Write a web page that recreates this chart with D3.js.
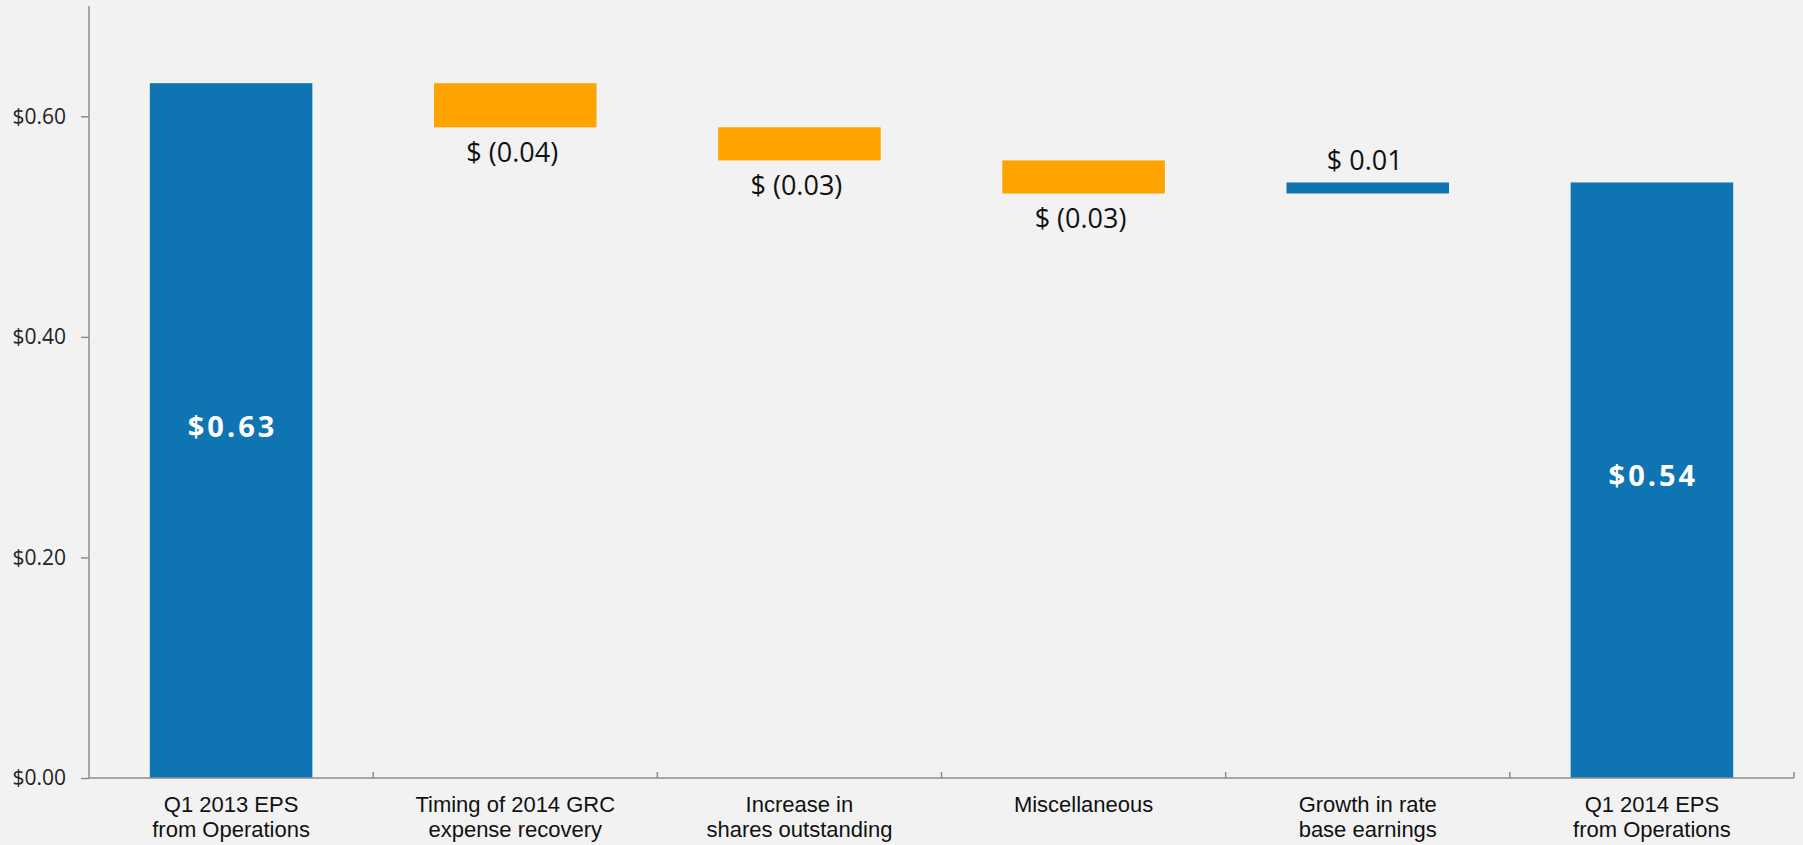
<!DOCTYPE html>
<html>
  <head>
    <meta charset="utf-8">
    <title>EPS bridge Q1 2013 to Q1 2014</title>
    <style>
      body{
        margin:0;
        background-color:#f2f2f2;
      }
      svg{
        display:block;
      }
    </style>
  </head>
  <body>
    <div class="chart"></div>
  </body>
  <script src="https://d3js.org/d3.v7.min.js"></script>
  <script>
    // data
    var categories = [
      ["Q1 2013 EPS", "from Operations"],
      ["Timing of 2014 GRC", "expense recovery"],
      ["Increase in", "shares outstanding"],
      ["Miscellaneous"],
      ["Growth in rate", "base earnings"],
      ["Q1 2014 EPS", "from Operations"]
    ]
    var values = [0.63, -0.04, -0.03, -0.03, 0.01, 0.54]
    var isTotal = [true, false, false, false, false, true]
    var valueLabels = ["$0.63", "$ (0.04)", "$ (0.03)", "$ (0.03)", "$ 0.01", "$0.54"]
    var yTicks = [0, 0.2, 0.4, 0.6]
    var yTickLabels = ["$0.00", "$0.20", "$0.40", "$0.60"]

    var W = 1803, H = 845
    // note: "top" is taken by window.top, so plot edges get their own names
    var plotL = 89, plotR = 1794, plotT = 6, plotB = 778
    var blue = "#0f75b2", orange = "#ffa300"

    // waterfall steps
    var run = 0
    var steps = values.map(function(v, i){
      var from, to
      if(isTotal[i]){ from = 0; to = v; run = v }
      else { from = run; to = run + v; run = to }
      return {i:i, from:from, to:to, v:v, total:isTotal[i], label:valueLabels[i]}
    })

    var x = d3.scaleBand().domain(d3.range(categories.length))
      .range([plotL, plotR]).paddingInner(0.428).paddingOuter(0.214)
    var y = d3.scaleLinear().domain([0, 0.7]).range([plotB, plotT])

    var svg = d3.select(".chart").append("svg")
      .attr("width", W).attr("height", H)

    svg.append("rect").attr("width", W).attr("height", H).attr("fill", "#f2f2f2")

    // bars
    svg.append("g").selectAll("rect").data(steps).enter().append("rect")
      .attr("x", function(d){ return x(d.i) })
      .attr("width", x.bandwidth())
      .attr("y", function(d){ return y(Math.max(d.from, d.to)) })
      .attr("height", function(d){ return Math.abs(y(d.from) - y(d.to)) })
      .attr("fill", function(d){ return (d.total || d.v > 0) ? blue : orange })

    // y axis
    var yAxis = d3.axisLeft(y).tickValues(yTicks)
      .tickFormat(function(d, i){ return yTickLabels[i] })
      .tickSize(8).tickPadding(15)
    var gy = svg.append("g").attr("transform", "translate(" + plotL + ",0)").call(yAxis)
    gy.select(".domain").attr("d", "M0," + plotT + "V" + plotB)
    gy.selectAll("line, .domain").attr("stroke", "#8c8c8c").attr("stroke-width", 1.5)
    gy.selectAll("text").attr("font-family", "Open Sans, sans-serif")
      .attr("font-size", 21).attr("fill", "#222")

    // x axis with ticks on category boundaries
    var step = x.step()
    var gx = svg.append("g")
    gx.append("line").attr("x1", plotL).attr("x2", plotR)
      .attr("y1", plotB).attr("y2", plotB)
      .attr("stroke", "#8c8c8c").attr("stroke-width", 1.5)
    gx.selectAll("line.tick").data(d3.range(1, categories.length + 1)).enter()
      .append("line").attr("class", "tick")
      .attr("x1", function(d){ return plotL + d * step })
      .attr("x2", function(d){ return plotL + d * step })
      .attr("y1", plotB).attr("y2", plotB - 6)
      .attr("stroke", "#8c8c8c").attr("stroke-width", 1.5)

    gx.selectAll("text").data(categories).enter().append("text")
      .attr("transform", function(d, i){
        return "translate(" + (x(i) + x.bandwidth() / 2) + ",0)"
      })
      .attr("text-anchor", "middle")
      .attr("font-family", "Liberation Sans, Arial, sans-serif")
      .attr("font-size", 22).attr("fill", "#111")
      .call(function(t){
        t.each(function(lines){
          d3.select(this).selectAll("tspan").data(lines).enter().append("tspan")
            .attr("x", 0)
            .attr("y", function(l, j){ return plotB + 34 + j * 24.5 })
            .text(function(l){ return l })
        })
      })

    // value labels
    var lab = svg.append("g")
    lab.selectAll("text.inner").data(steps.filter(function(d){ return d.total })).enter()
      .append("text").attr("class", "inner")
      .attr("x", function(d){ return x(d.i) + x.bandwidth() / 2 + 1.5 })
      .attr("y", function(d){ return (y(d.from) + y(d.to)) / 2 + 6 })
      .attr("text-anchor", "middle")
      .attr("font-family", "Open Sans, sans-serif").attr("font-weight", "bold")
      .attr("font-size", 29).attr("letter-spacing", 3)
      .attr("fill", "#fff")
      .text(function(d){ return d.label })

    lab.selectAll("text.delta").data(steps.filter(function(d){ return !d.total })).enter()
      .append("text").attr("class", "delta")
      .attr("x", function(d){ return x(d.i) + x.bandwidth() / 2 - 3 })
      .attr("y", function(d){
        return d.v < 0 ? y(Math.min(d.from, d.to)) + 35 : y(Math.max(d.from, d.to)) - 12
      })
      .attr("text-anchor", "middle")
      .attr("font-family", "Open Sans, sans-serif")
      .attr("font-size", 27).attr("fill", "#111")
      .text(function(d){ return d.label })
  </script>
</html>
